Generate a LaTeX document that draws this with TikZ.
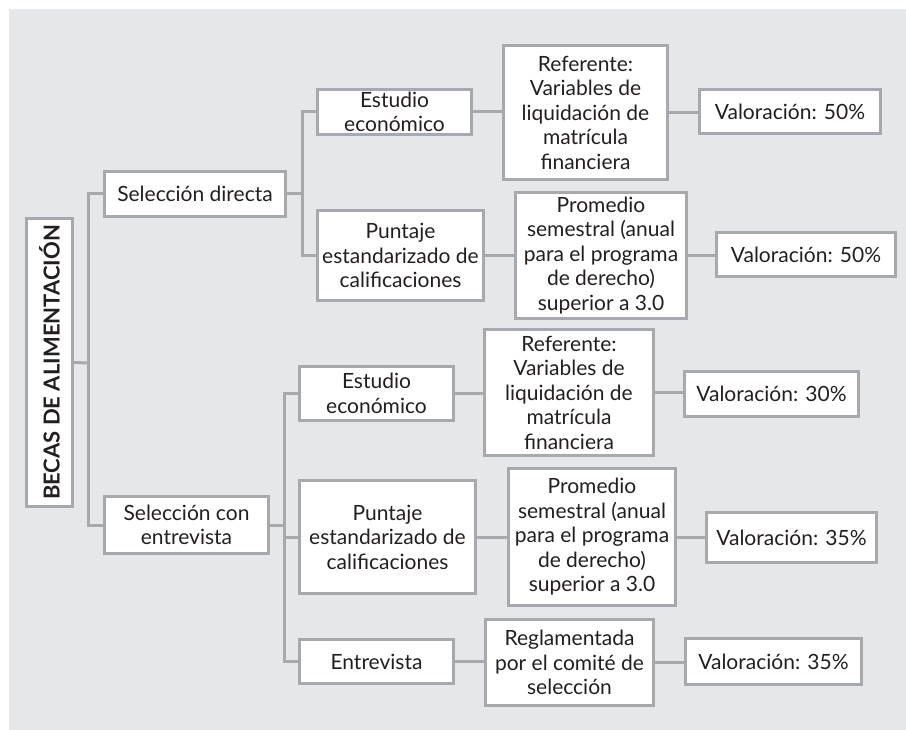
\documentclass[tikz,border=0pt]{standalone}
\usepackage{fontspec}
\setmainfont{Lato}
\definecolor{bgc}{HTML}{E6E7E8}
\definecolor{linec}{HTML}{A7A9AC}
\definecolor{txt}{HTML}{231F20}
\tikzset{
  box/.style={draw=linec, line width=3pt, fill=white, align=center, inner sep=0pt, text=txt,
    font=\fontsize{21}{24.5}\selectfont},
  conn/.style={draw=linec, line width=3pt},
}
\newcommand\bx[6]{\node[box, minimum width={(#4-#2-3)*1pt}, minimum height={(#5-#3-3)*1pt}] (#1) at ({(#2+#4)/2},{-(#3+#5)/2}) {#6};}
\begin{document}
\begin{tikzpicture}[x=1pt,y=1pt]
\useasboundingbox (0,0) rectangle (906,-730);
\fill[bgc] (9,-9) rectangle (906,-730);
% trunks
\coordinate (t0) at (88.5,-363);
\coordinate (t1) at (302.5,-194);
\coordinate (t2) at (284.5,-525);
\node[box, minimum width=287pt, minimum height=46pt, rotate=90, font=\bfseries\fontsize{22}{25}\selectfont] (root) at (49.5,-362.5) {BECAS DE ALIMENTACIÓN};
\bx{sd}{103}{170}{287}{218}{Selección directa}
\bx{sc}{103}{495}{270}{555}{Selección con\\entrevista}
\bx{e1}{316}{88}{473}{136}{Estudio\\económico}
\bx{p1}{316}{209}{485}{302}{Puntaje\\estandarizado de\\calificaciones}
\bx{r1}{502}{44}{669}{181}{Referente:\\Variables de\\liquidación de\\matrícula\\financiera}
\bx{m1}{514}{191}{688}{320}{Promedio\\semestral (anual\\para el programa\\de derecho)\\superior a 3.0}
\bx{v1}{698}{88}{882}{135}{Valoración: 50\%}
\bx{v2}{715}{231}{897}{278}{Valoración: 50\%}
\bx{e2}{298}{365}{455}{422}{Estudio\\económico}
\bx{p2}{298}{479}{477}{595}{Puntaje\\estandarizado de\\calificaciones}
\bx{en}{298}{638}{455}{685}{Entrevista}
\bx{r2}{483}{328}{655}{457}{Referente:\\Variables de\\liquidación de\\matrícula\\financiera}
\bx{m2}{507}{467}{677}{607}{Promedio\\semestral (anual\\para el programa\\de derecho)\\superior a 3.0}
\bx{rg}{484}{618}{655}{707}{Reglamentada\\por el comité de\\selección}
\bx{v3}{683}{370}{860}{418}{Valoración: 30\%}
\bx{v4}{705}{511}{878}{564}{Valoración: 35\%}
\bx{v5}{684}{637}{863}{686}{Valoración: 35\%}
% connectors
\draw[conn] (root.south) -- (t0);
\draw[conn] (sd.west) -| (t0);
\draw[conn] (sc.west) -| (t0);
\draw[conn] (sd.east) -- (t1);
\draw[conn] (e1.west) -| (t1);
\draw[conn] (p1.west) -| (t1);
\draw[conn] (sc.east) -- (t2);
\draw[conn] (e2.west) -| (t2);
\draw[conn] (p2.west) -| (t2);
\draw[conn] (en.west) -| (t2);
\draw[conn] (e1.east) -- (e1.east -| r1.west);
\draw[conn] (p1.east) -- (p1.east -| m1.west);
\draw[conn] (r1.east) -- (r1.east -| v1.west);
\draw[conn] (m1.east) -- (m1.east -| v2.west);
\draw[conn] (e2.east) -- (e2.east -| r2.west);
\draw[conn] (p2.east) -- (p2.east -| m2.west);
\draw[conn] (en.east) -- (en.east -| rg.west);
\draw[conn] (r2.east) -- (r2.east -| v3.west);
\draw[conn] (m2.east) -- (m2.east -| v4.west);
\draw[conn] (rg.east) -- (rg.east -| v5.west);
\end{tikzpicture}
\end{document}
